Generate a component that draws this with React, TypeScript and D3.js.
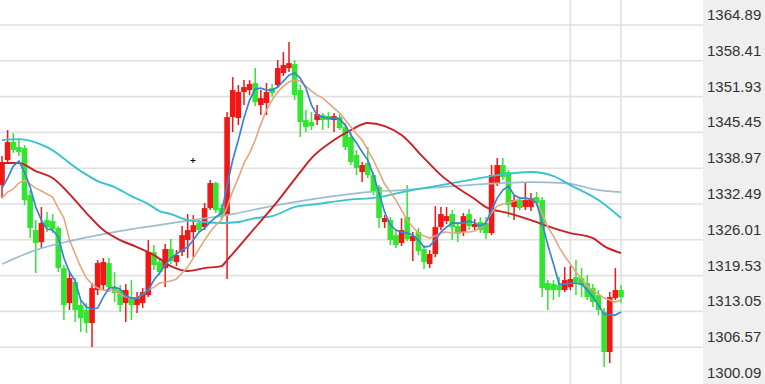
import React from 'react';
import * as d3 from 'd3';

const W = 765;
const H = 384;
const PLOT_RIGHT = 703;

// price axis labels (right side)
const tickLabels = [1364.89, 1358.41, 1351.93, 1345.45, 1338.97, 1332.49, 1326.01, 1319.53, 1313.05, 1306.57, 1300.09];

// candle data: open / close / high / low
const opens = [
  1335.91, 1340.44, 1343.70, 1342.79, 1342.61, 1334.10, 1327.77, 1325.60, 1329.58, 1329.40,
  1328.13, 1320.89, 1314.56, 1318.36, 1314.19, 1313.29, 1310.94, 1316.91, 1317.81, 1321.80,
  1317.27, 1316.91, 1314.56, 1315.64, 1314.19, 1314.56, 1316.00, 1323.79, 1321.98, 1320.89,
  1324.33, 1321.98, 1323.79, 1325.96, 1327.41, 1329.04, 1328.31, 1331.75, 1336.28, 1331.75,
  1330.48, 1348.22, 1348.04, 1352.75, 1353.11, 1354.38, 1350.39, 1350.76, 1353.47, 1354.02,
  1356.19, 1357.09, 1357.81, 1353.11, 1347.68, 1347.32, 1347.68, 1348.58, 1348.40, 1347.68,
  1348.22, 1346.41, 1344.61, 1341.34, 1338.27, 1339.90, 1337.72, 1335.55, 1329.22, 1329.58,
  1326.86, 1325.42, 1330.12, 1325.78, 1327.41, 1324.33, 1321.62, 1323.43, 1328.31, 1329.40,
  1330.67, 1328.49, 1327.41, 1330.67, 1328.31, 1329.22, 1329.04, 1327.23, 1336.28, 1339.53,
  1338.27, 1331.93, 1333.20, 1331.93, 1331.93, 1333.74, 1333.20, 1318.18, 1318.00, 1317.81,
  1316.91, 1317.45, 1319.26, 1319.08, 1318.18, 1317.27, 1316.00, 1312.93, 1305.69, 1315.46,
  1316.91,
];
const closes = [
  1340.08, 1343.70, 1342.25, 1341.89, 1333.20, 1328.13, 1325.42, 1329.04, 1328.31, 1327.95,
  1320.89, 1314.19, 1319.08, 1313.29, 1311.84, 1310.94, 1317.27, 1321.80, 1321.98, 1317.45,
  1316.37, 1314.19, 1316.91, 1314.19, 1315.46, 1316.55, 1323.79, 1321.43, 1320.17, 1324.33,
  1322.16, 1323.24, 1326.86, 1327.77, 1328.67, 1327.77, 1331.75, 1336.28, 1331.39, 1330.30,
  1348.22, 1353.11, 1352.75, 1353.65, 1354.20, 1350.94, 1351.66, 1352.75, 1352.56, 1357.09,
  1357.63, 1357.99, 1352.20, 1347.32, 1346.41, 1346.59, 1348.77, 1347.68, 1347.68, 1348.40,
  1346.23, 1342.79, 1340.08, 1338.99, 1339.53, 1337.72, 1334.65, 1329.94, 1329.94, 1325.96,
  1325.05, 1327.77, 1326.14, 1326.68, 1323.97, 1321.98, 1323.43, 1328.31, 1330.67, 1330.30,
  1328.31, 1327.05, 1330.30, 1328.49, 1328.85, 1327.77, 1327.23, 1337.72, 1339.53, 1337.36,
  1332.29, 1333.20, 1331.75, 1333.20, 1333.56, 1332.66, 1317.27, 1316.91, 1316.91, 1316.91,
  1318.72, 1318.90, 1318.36, 1317.81, 1315.64, 1314.74, 1313.29, 1305.69, 1315.64, 1316.91,
  1315.64,
];
const highs = [
  1341.16, 1345.87, 1345.33, 1344.06, 1343.15, 1335.01, 1329.58, 1331.93, 1331.03, 1330.67,
  1328.49, 1321.43, 1320.17, 1319.08, 1315.10, 1314.56, 1318.18, 1322.34, 1322.70, 1322.70,
  1320.17, 1317.81, 1318.00, 1318.72, 1316.55, 1317.27, 1325.96, 1325.05, 1322.70, 1325.24,
  1326.14, 1324.15, 1328.49, 1330.67, 1330.48, 1329.58, 1332.66, 1336.82, 1336.46, 1332.48,
  1349.13, 1355.46, 1354.02, 1354.92, 1354.92, 1357.09, 1353.11, 1354.38, 1354.20, 1358.54,
  1359.99, 1361.80, 1358.54, 1354.02, 1349.49, 1349.13, 1350.39, 1348.95, 1349.13, 1348.95,
  1348.77, 1347.14, 1345.51, 1342.25, 1340.08, 1342.79, 1338.27, 1335.91, 1330.48, 1330.12,
  1327.77, 1329.94, 1335.91, 1327.41, 1328.13, 1325.05, 1324.15, 1332.11, 1331.93, 1331.93,
  1331.39, 1329.22, 1330.85, 1331.57, 1329.76, 1330.12, 1330.12, 1339.53, 1340.80, 1340.80,
  1338.63, 1334.10, 1333.74, 1336.46, 1334.47, 1334.65, 1333.74, 1318.72, 1318.72, 1319.26,
  1321.07, 1321.25, 1322.34, 1320.89, 1319.62, 1318.00, 1316.91, 1313.65, 1316.55, 1320.89,
  1317.81,
];
const lows = [
  1333.56, 1339.90, 1341.71, 1341.16, 1332.29, 1326.32, 1319.99, 1324.51, 1327.41, 1327.23,
  1320.17, 1311.48, 1313.29, 1311.12, 1309.31, 1309.13, 1306.59, 1316.00, 1316.91, 1316.55,
  1314.74, 1312.93, 1311.12, 1311.48, 1312.75, 1313.65, 1315.64, 1320.53, 1319.62, 1317.45,
  1321.62, 1321.25, 1323.06, 1322.70, 1322.88, 1327.23, 1327.77, 1331.39, 1330.85, 1329.58,
  1318.90, 1345.51, 1346.77, 1350.39, 1352.20, 1350.21, 1348.58, 1348.58, 1351.84, 1353.47,
  1355.64, 1356.37, 1351.30, 1344.61, 1345.51, 1345.87, 1346.77, 1345.87, 1346.23, 1345.51,
  1345.87, 1342.25, 1339.53, 1337.72, 1336.46, 1337.18, 1334.10, 1328.13, 1328.13, 1325.05,
  1324.51, 1324.87, 1325.78, 1322.16, 1323.24, 1320.71, 1320.89, 1322.88, 1327.77, 1328.85,
  1325.96, 1325.60, 1326.68, 1327.77, 1327.77, 1327.23, 1326.14, 1326.86, 1335.73, 1336.82,
  1330.12, 1329.58, 1331.39, 1331.39, 1331.21, 1332.11, 1315.64, 1313.29, 1315.10, 1315.64,
  1316.55, 1316.91, 1316.00, 1315.64, 1315.10, 1313.83, 1312.39, 1302.97, 1303.70, 1315.10,
  1314.56,
];

// moving averages
const ma5 = [
  1335.37, 1337.18, 1339.35, 1340.26, 1338.27, 1335.55, 1331.93, 1329.58, 1327.95, 1327.77,
  1326.50, 1322.70, 1320.17, 1318.54, 1315.10, 1313.83, 1313.47, 1313.65, 1315.64, 1317.27,
  1317.45, 1317.09, 1315.82, 1315.46, 1315.46, 1316.19, 1316.91, 1318.72, 1319.99, 1321.43,
  1322.70, 1323.43, 1324.15, 1324.69, 1325.96, 1327.41, 1328.13, 1329.22, 1330.12, 1330.85,
  1335.91, 1340.44, 1344.06, 1348.04, 1351.30, 1353.29, 1353.47, 1353.11, 1353.11, 1353.65,
  1354.74, 1355.82, 1356.19, 1355.28, 1353.47, 1350.39, 1348.58, 1348.22, 1348.04, 1348.04,
  1347.86, 1346.77, 1344.96, 1343.52, 1341.89, 1340.44, 1337.72, 1334.47, 1331.03, 1328.67,
  1327.77, 1327.41, 1327.23, 1326.86, 1325.96, 1324.69, 1324.87, 1325.96, 1327.41, 1328.31,
  1329.04, 1329.04, 1329.04, 1329.40, 1329.04, 1328.49, 1329.04, 1331.39, 1333.56, 1335.01,
  1335.73, 1334.10, 1333.56, 1333.56, 1333.38, 1332.66, 1329.04, 1325.05, 1321.62, 1318.00,
  1318.00, 1318.18, 1318.18, 1318.00, 1316.91, 1315.64, 1314.19, 1312.57, 1312.39, 1312.39,
  1312.93,
];
const ma10 = [
  1333.56, 1334.65, 1335.19, 1336.28, 1336.82, 1336.10, 1335.37, 1334.83, 1334.29, 1333.74,
  1331.75, 1329.94, 1325.96, 1323.43, 1321.07, 1319.08, 1318.00, 1317.27, 1316.91, 1316.91,
  1316.73, 1316.19, 1315.64, 1315.46, 1315.46, 1316.19, 1316.91, 1317.45, 1318.18, 1318.36,
  1318.54, 1318.90, 1319.99, 1321.07, 1322.70, 1324.33, 1325.96, 1327.41, 1328.67, 1329.58,
  1331.93, 1334.83, 1337.18, 1339.90, 1341.71, 1344.06, 1346.95, 1349.49, 1351.30, 1352.75,
  1353.83, 1354.56, 1354.92, 1354.74, 1353.83, 1352.93, 1352.20, 1351.66, 1350.76, 1349.85,
  1348.95, 1347.68, 1346.41, 1345.15, 1344.06, 1342.25, 1340.44, 1338.27, 1336.10, 1334.65,
  1333.20, 1331.39, 1329.58, 1328.31, 1327.23, 1326.68, 1326.32, 1326.68, 1327.23, 1327.41,
  1327.23, 1327.23, 1327.41, 1327.41, 1327.59, 1328.13, 1329.22, 1330.85, 1332.11, 1332.48,
  1332.66, 1333.02, 1333.38, 1333.56, 1333.38, 1332.66, 1330.85, 1328.31, 1326.68, 1324.69,
  1323.06, 1321.62, 1320.17, 1318.90, 1317.63, 1316.91, 1316.19, 1315.46, 1315.10, 1314.74,
  1315.10,
];
// slower averages: [candle index, value]
const ma20: [number, number][] = [
  [0, 1339.90], [3, 1339.90], [6, 1338.45], [9, 1337.18], [12, 1334.29], [15, 1330.85],
  [18, 1327.77], [21, 1325.96], [24, 1324.69], [27, 1323.24], [30, 1321.25], [33, 1320.35],
  [36, 1320.89], [39, 1321.25], [40, 1322.34], [44, 1327.05], [49, 1333.02], [53, 1338.27],
  [55, 1340.80], [59, 1344.06], [62, 1345.87], [65, 1347.14], [68, 1346.59], [71, 1344.96],
  [75, 1340.80], [78, 1337.72], [81, 1335.37], [84, 1333.38], [86, 1331.93], [90, 1330.85],
  [94, 1329.58], [98, 1328.13], [101, 1327.23], [105, 1326.32], [107, 1324.87], [110, 1323.61],
];
const ma30: [number, number][] = [
  [0, 1344.06], [3, 1344.24], [8, 1342.79], [14, 1338.45], [17, 1336.64], [20, 1335.55],
  [23, 1333.92], [26, 1332.48], [28, 1331.21], [30, 1330.67], [33, 1329.58], [36, 1329.22],
  [39, 1329.04], [42, 1329.22], [45, 1329.94], [48, 1330.30], [52, 1331.93], [56, 1332.48],
  [61, 1333.20], [67, 1333.74], [72, 1334.83], [78, 1335.91], [83, 1336.82], [88, 1337.72],
  [94, 1338.27], [98, 1337.54], [101, 1335.91], [106, 1333.20], [110, 1329.94],
];
const ma60: [number, number][] = [
  [0, 1321.62], [6, 1324.15], [12, 1325.78], [18, 1327.05], [23, 1327.95], [29, 1328.85],
  [35, 1329.76], [41, 1330.67], [47, 1331.93], [53, 1333.02], [59, 1333.92], [65, 1334.65],
  [71, 1335.01], [83, 1335.91], [94, 1336.46], [100, 1336.28], [106, 1335.01], [110, 1334.65],
];

// vertical time grid lines at these candle indexes
const timeGridIdx = [101, 110];

const UP = '#f21616';
const DOWN = '#30e630';

export default function App() {
  const n = opens.length;
  const x = d3.scaleLinear().domain([0, n - 1]).range([2, 621]);
  const y = d3.scaleLinear().domain([1300.09, 1364.89]).range([383, 25]);
  const bodyW = 5.6;

  const lineFull = d3
    .line<number>()
    .x((_, i) => x(i))
    .y((d) => y(d))
    .curve(d3.curveLinear);
  const lineSparse = d3
    .line<[number, number]>()
    .x((d) => x(d[0]))
    .y((d) => y(d[1]))
    .curve(d3.curveMonotoneX);

  return (
    <div style={{ position: 'fixed', left: 0, top: 0, width: W, height: H, background: '#fff' }}>
      <svg width={W} height={H} style={{ display: 'block' }}>
        <rect x={0} y={0} width={W} height={H} fill="#ffffff" />
        {/* horizontal grid */}
        {tickLabels
          .filter((t) => y(t) < H - 3)
          .map((t) => (
            <line
              key={'g' + t}
              x1={0}
              x2={PLOT_RIGHT}
              y1={y(t)}
              y2={y(t)}
              stroke="#e1e1e1"
              strokeWidth={1.6}
            />
          ))}
        {/* vertical grid */}
        {timeGridIdx.map((i) => (
          <line
            key={'v' + i}
            x1={x(i)}
            x2={x(i)}
            y1={0}
            y2={H}
            stroke="#e1e1e1"
            strokeWidth={1.6}
          />
        ))}
        {/* candles */}
        {opens.map((o, i) => {
          const c = closes[i];
          const up = c >= o;
          const col = up ? UP : DOWN;
          const top = y(Math.max(o, c));
          const bot = y(Math.min(o, c));
          return (
            <g key={'c' + i}>
              <line x1={x(i)} x2={x(i)} y1={y(highs[i])} y2={y(lows[i])} stroke={col} strokeWidth={1.5} />
              <rect x={x(i) - bodyW / 2} y={top} width={bodyW} height={Math.max(1.5, bot - top)} fill={col} />
            </g>
          );
        })}
        {/* moving averages */}
        <path d={lineSparse(ma60) || ''} fill="none" stroke="#9dbccf" strokeWidth={1.7} />
        <path d={lineSparse(ma30) || ''} fill="none" stroke="#35c3cc" strokeWidth={1.9} />
        <path d={lineSparse(ma20) || ''} fill="none" stroke="#cc1f24" strokeWidth={1.9} />
        <path d={lineFull(ma10) || ''} fill="none" stroke="#e2a77c" strokeWidth={1.6} />
        <path d={lineFull(ma5) || ''} fill="none" stroke="#3a84d6" strokeWidth={1.7} />
        {/* mouse cursor mark */}
        <path d="M190.5,160.5h5M193,158v5" stroke="#000" strokeWidth={1} />
        {/* right price panel */}
        <rect x={PLOT_RIGHT} y={0} width={W - PLOT_RIGHT} height={H} fill="#efefef" />
        {tickLabels.map((t) => (
          <text
            key={'t' + t}
            x={707}
            y={y(t) - 5}
            fontFamily="'Liberation Sans', Arial, sans-serif"
            fontSize={15}
            fill="#333"
          >
            {t.toFixed(2)}
          </text>
        ))}
      </svg>
    </div>
  );
}
